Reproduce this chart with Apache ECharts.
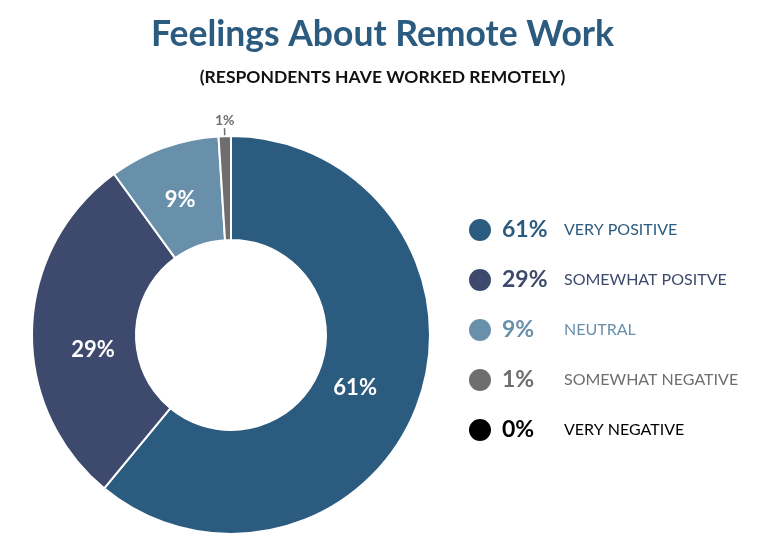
<!DOCTYPE html>
<html>
<head>
<meta charset="utf-8">
<script src="https://cdn.jsdelivr.net/npm/echarts@6/dist/echarts.min.js"></script>
<style>
	html, body { margin: 0; padding: 0; background: #fff; }
	#chart { width: 765px; height: 550px; }
</style>
</head>
<body>
<div id="chart"></div>
<script>
	// 数据
	var categories = ['VERY POSITIVE', 'SOMEWHAT POSITVE', 'NEUTRAL', 'SOMEWHAT NEGATIVE', 'VERY NEGATIVE'];
	var values = [61, 29, 9, 1, 0];
	var colors = ['#2c5b80', '#3e4a6d', '#6890ab', '#6e6e6e', '#000000'];
	// 扇区内标签微调
	var labelOffsets = [[-17, 2], [12, 20], [0, 6], null, null];

	var fontFamily = 'Lato, "Open Sans", sans-serif';

	var pieData = [];
	var legendRich = {};
	for (var i = 0, j = categories.length; i < j; i++) {
		var item = {
			name: categories[i],
			value: values[i],
			itemStyle: { color: colors[i] }
		};
		if (values[i] === 0) {
			item.label = { show: false };
			item.labelLine = { show: false };
		} else if (values[i] < 3) {
			// 小扇区放在外面
			item.label = {
				position: 'outside',
				color: '#6e6e6e',
				fontSize: 14,
				fontWeight: 'bold',
				distanceToLabelLine: -10,
				padding: [0, 0, 6, 0],
				offset: [0, -8]
			};
			item.labelLine = { show: true, length: 8, length2: 0, lineStyle: { color: '#6e6e6e', width: 1.5 } };
		} else if (labelOffsets[i]) {
			item.label = { offset: labelOffsets[i] };
		}
		pieData.push(item);
		legendRich['p' + i] = { color: colors[i], fontSize: 23, fontWeight: 'bold', width: 62, fontFamily: fontFamily };
		legendRich['n' + i] = { color: colors[i], fontSize: 16, fontFamily: fontFamily };
	}

	var myChart = echarts.init(document.getElementById('chart'));
	myChart.setOption({
		animation: false,
		title: {
			text: 'Feelings About Remote Work',
			subtext: '(RESPONDENTS HAVE WORKED REMOTELY)',
			left: 'center',
			top: 12,
			itemGap: 15,
			textStyle: { color: '#2c5b80', fontSize: 35.5, fontWeight: 'bold', fontFamily: fontFamily },
			subtextStyle: { color: '#111', fontSize: 17.5, fontWeight: 'bold', fontFamily: fontFamily }
		},
		legend: {
			orient: 'vertical',
			left: 462,
			top: 212,
			icon: 'circle',
			itemWidth: 24,
			itemHeight: 24,
			itemGap: 24,
			selectedMode: false,
			data: categories,
			formatter: function (name) {
				var idx = categories.indexOf(name);
				return '{p' + idx + '|' + values[idx] + '%}{n' + idx + '|' + name + '}';
			},
			textStyle: { rich: legendRich, padding: [0, 0, 0, 5] }
		},
		series: [{
			type: 'pie',
			center: [231, 335],
			radius: [95, 199],
			startAngle: 90,
			clockwise: true,
			avoidLabelOverlap: false,
			itemStyle: { borderColor: '#fff', borderWidth: 2 },
			label: {
				show: true,
				position: 'inside',
				formatter: '{c}%',
				color: '#fff',
				fontSize: 22,
				fontWeight: 'bold',
				fontFamily: fontFamily
			},
			data: pieData
		}]
	});
</script>
</body>
</html>
